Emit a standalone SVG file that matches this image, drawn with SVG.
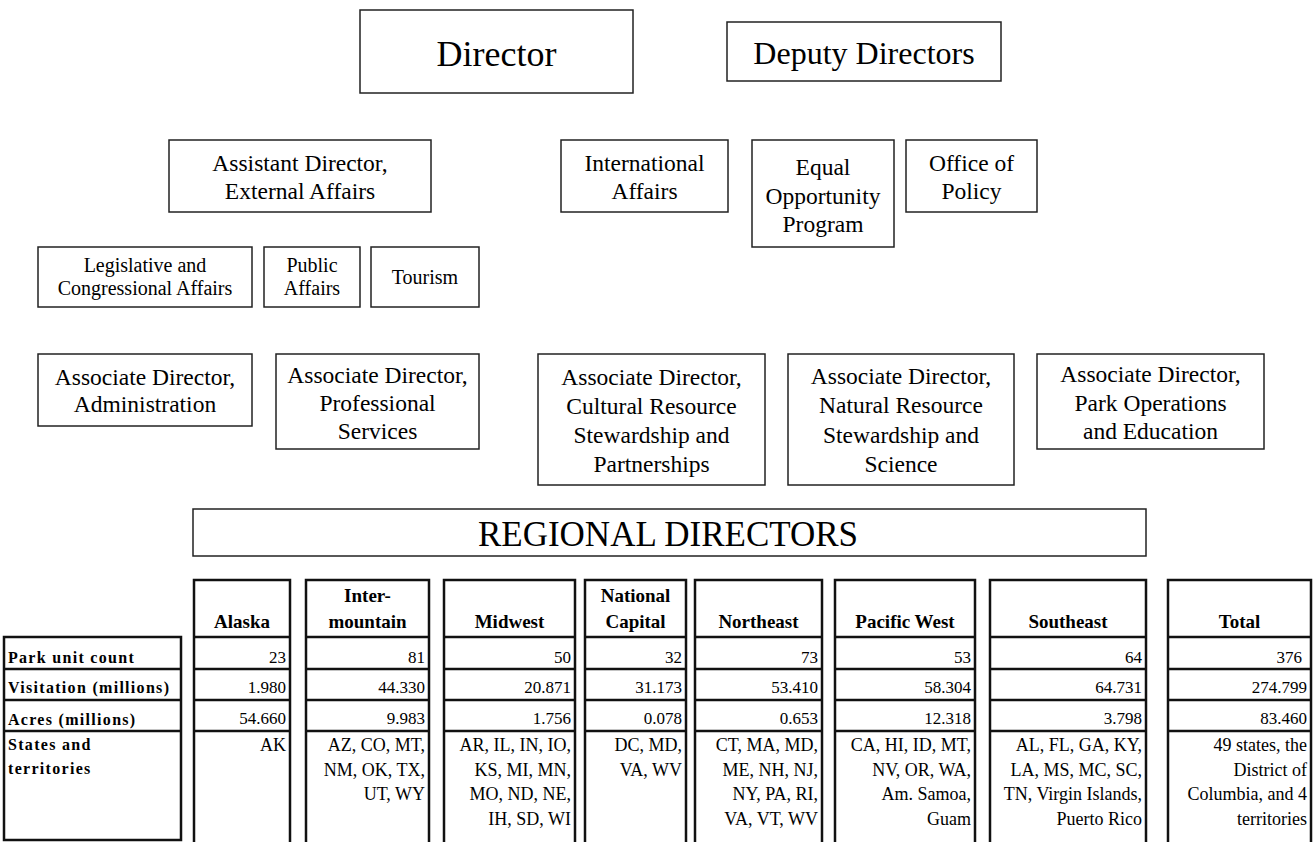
<svg xmlns="http://www.w3.org/2000/svg" width="1315" height="842" viewBox="0 0 1315 842">
<style>
.bg{fill:#fff}
.box{fill:#fff;stroke:#222;stroke-width:1.5}
.t{font-family:"Liberation Serif","Times New Roman",serif;fill:#000;text-anchor:middle}
.s23{font-size:23.5px}
.s20{font-size:20px}
.tbl{fill:none;stroke:#111;stroke-width:2.5}
.hdr{font-family:"Liberation Serif","Times New Roman",serif;font-weight:bold;font-size:19px;text-anchor:middle;fill:#000}
.num{font-family:"Liberation Serif","Times New Roman",serif;font-size:18px;text-anchor:end;fill:#000}
.val{font-size:17px}
.lbl{font-family:"Liberation Serif","Times New Roman",serif;font-weight:bold;font-size:16px;letter-spacing:1.3px;fill:#000}
</style>
<rect class="bg" x="0" y="0" width="1315" height="842"/>
<g id="connectors"/>
<g id="director"><rect class="box" x="360" y="10" width="273" height="83"/><text class="t" x="496.5" y="66" font-size="36">Director</text></g>
<g id="deputy"><rect class="box" x="727" y="22" width="274" height="59"/><text class="t" x="864" y="64" font-size="32">Deputy Directors</text></g>
<g id="assistant"><rect class="box" x="169" y="140" width="262" height="72"/><text class="t s23" x="300" y="171">Assistant Director,</text><text class="t s23" x="300" y="199">External Affairs</text></g>
<g id="international"><rect class="box" x="561" y="140" width="167" height="72"/><text class="t s23" x="644.5" y="171">International</text><text class="t s23" x="644.5" y="199">Affairs</text></g>
<g id="equal"><rect class="box" x="752" y="140" width="142" height="107"/><text class="t s23" x="823" y="175">Equal</text><text class="t s23" x="823" y="204">Opportunity</text><text class="t s23" x="823" y="232">Program</text></g>
<g id="policy"><rect class="box" x="906" y="140" width="131" height="72"/><text class="t s23" x="971.5" y="171">Office of</text><text class="t s23" x="971.5" y="199">Policy</text></g>
<g id="legislative"><rect class="box" x="38" y="247" width="214" height="60"/><text class="t s20" x="145" y="272">Legislative and</text><text class="t s20" x="145" y="295">Congressional Affairs</text></g>
<g id="public"><rect class="box" x="264" y="247" width="96" height="60"/><text class="t s20" x="312" y="272">Public</text><text class="t s20" x="312" y="295">Affairs</text></g>
<g id="tourism"><rect class="box" x="371" y="247" width="108" height="60"/><text class="t s20" x="425" y="284">Tourism</text></g>
<g id="admin"><rect class="box" x="38" y="354" width="214" height="72"/><text class="t s23" x="145" y="385">Associate Director,</text><text class="t s23" x="145" y="412">Administration</text></g>
<g id="professional"><rect class="box" x="276" y="354" width="203" height="95"/><text class="t s23" x="377.5" y="383">Associate Director,</text><text class="t s23" x="377.5" y="411">Professional</text><text class="t s23" x="377.5" y="439">Services</text></g>
<g id="cultural"><rect class="box" x="538" y="354" width="227" height="131"/><text class="t s23" x="651.5" y="385">Associate Director,</text><text class="t s23" x="651.5" y="414">Cultural Resource</text><text class="t s23" x="651.5" y="443">Stewardship and</text><text class="t s23" x="651.5" y="472">Partnerships</text></g>
<g id="natural"><rect class="box" x="788" y="354" width="226" height="131"/><text class="t s23" x="901" y="384">Associate Director,</text><text class="t s23" x="901" y="413">Natural Resource</text><text class="t s23" x="901" y="443">Stewardship and</text><text class="t s23" x="901" y="472">Science</text></g>
<g id="parkops"><rect class="box" x="1037" y="354" width="227" height="95"/><text class="t s23" x="1150.5" y="382">Associate Director,</text><text class="t s23" x="1150.5" y="411">Park Operations</text><text class="t s23" x="1150.5" y="439">and Education</text></g>
<g id="regional"><rect class="box" x="193" y="509" width="953" height="47"/><text class="t" x="668" y="546" font-size="35">REGIONAL DIRECTORS</text></g>
<g id="table">
<g id="labels"><path class="tbl" d="M4,637 H181 V840 H4 Z M4,669 H181 M4,700 H181 M4,731 H181"/>
<text class="lbl" x="8" y="663">Park unit count</text>
<text class="lbl" x="8" y="693">Visitation (millions)</text>
<text class="lbl" x="8" y="725">Acres (millions)</text>
<text class="lbl" x="8" y="750">States and</text>
<text class="lbl" x="8" y="774">territories</text></g>
<g id="col-alaska"><path class="tbl" d="M194,842 V580 H290 V842 M194,637 H290 M194,669 H290 M194,700 H290 M194,731 H290"/>
<text class="hdr" x="242" y="628">Alaska</text>
<text class="num val" x="286" y="663">23</text><text class="num val" x="286" y="693">1.980</text><text class="num val" x="286" y="724">54.660</text>
<text class="num" x="286" y="751">AK</text></g>
<g id="col-intermountain"><path class="tbl" d="M306,842 V580 H429 V842 M306,637 H429 M306,669 H429 M306,700 H429 M306,731 H429"/>
<text class="hdr" x="367.5" y="602">Inter-</text><text class="hdr" x="367.5" y="628">mountain</text>
<text class="num val" x="425" y="663">81</text><text class="num val" x="425" y="693">44.330</text><text class="num val" x="425" y="724">9.983</text>
<text class="num" x="425" y="751">AZ, CO, MT,</text><text class="num" x="425" y="775.5">NM, OK, TX,</text><text class="num" x="425" y="800">UT, WY</text></g>
<g id="col-midwest"><path class="tbl" d="M444,842 V580 H575 V842 M444,637 H575 M444,669 H575 M444,700 H575 M444,731 H575"/>
<text class="hdr" x="509.5" y="628">Midwest</text>
<text class="num val" x="571" y="663">50</text><text class="num val" x="571" y="693">20.871</text><text class="num val" x="571" y="724">1.756</text>
<text class="num" x="571" y="751">AR, IL, IN, IO,</text><text class="num" x="571" y="775.5">KS, MI, MN,</text><text class="num" x="571" y="800">MO, ND, NE,</text><text class="num" x="571" y="824.5">IH, SD, WI</text></g>
<g id="col-natcap"><path class="tbl" d="M585,842 V580 H686 V842 M585,637 H686 M585,669 H686 M585,700 H686 M585,731 H686"/>
<text class="hdr" x="635.5" y="602">National</text><text class="hdr" x="635.5" y="628">Capital</text>
<text class="num val" x="682" y="663">32</text><text class="num val" x="682" y="693">31.173</text><text class="num val" x="682" y="724">0.078</text>
<text class="num" x="682" y="751">DC, MD,</text><text class="num" x="682" y="775.5">VA, WV</text></g>
<g id="col-northeast"><path class="tbl" d="M695,842 V580 H822 V842 M695,637 H822 M695,669 H822 M695,700 H822 M695,731 H822"/>
<text class="hdr" x="758.5" y="628">Northeast</text>
<text class="num val" x="818" y="663">73</text><text class="num val" x="818" y="693">53.410</text><text class="num val" x="818" y="724">0.653</text>
<text class="num" x="818" y="751">CT, MA, MD,</text><text class="num" x="818" y="775.5">ME, NH, NJ,</text><text class="num" x="818" y="800">NY, PA, RI,</text><text class="num" x="818" y="824.5">VA, VT, WV</text></g>
<g id="col-pacific"><path class="tbl" d="M835,842 V580 H975 V842 M835,637 H975 M835,669 H975 M835,700 H975 M835,731 H975"/>
<text class="hdr" x="905" y="628">Pacific West</text>
<text class="num val" x="971" y="663">53</text><text class="num val" x="971" y="693">58.304</text><text class="num val" x="971" y="724">12.318</text>
<text class="num" x="971" y="751">CA, HI, ID, MT,</text><text class="num" x="971" y="775.5">NV, OR, WA,</text><text class="num" x="971" y="800">Am. Samoa,</text><text class="num" x="971" y="824.5">Guam</text></g>
<g id="col-southeast"><path class="tbl" d="M990,842 V580 H1146 V842 M990,637 H1146 M990,669 H1146 M990,700 H1146 M990,731 H1146"/>
<text class="hdr" x="1068" y="628">Southeast</text>
<text class="num val" x="1142" y="663">64</text><text class="num val" x="1142" y="693">64.731</text><text class="num val" x="1142" y="724">3.798</text>
<text class="num" x="1142" y="751">AL, FL, GA, KY,</text><text class="num" x="1142" y="775.5">LA, MS, MC, SC,</text><text class="num" x="1142" y="800">TN, Virgin Islands,</text><text class="num" x="1142" y="824.5">Puerto Rico</text></g>
<g id="col-total"><path class="tbl" d="M1168,842 V580 H1311 V842 M1168,637 H1311 M1168,669 H1311 M1168,700 H1311 M1168,731 H1311"/>
<text class="hdr" x="1239.5" y="628">Total</text>
<text class="num val" x="1302" y="663">376</text><text class="num val" x="1307" y="693">274.799</text><text class="num val" x="1307" y="724">83.460</text>
<text class="num" x="1307" y="751">49 states, the</text><text class="num" x="1307" y="775.5">District of</text><text class="num" x="1307" y="800">Columbia, and 4</text><text class="num" x="1307" y="824.5">territories</text></g>
</g>
</svg>
